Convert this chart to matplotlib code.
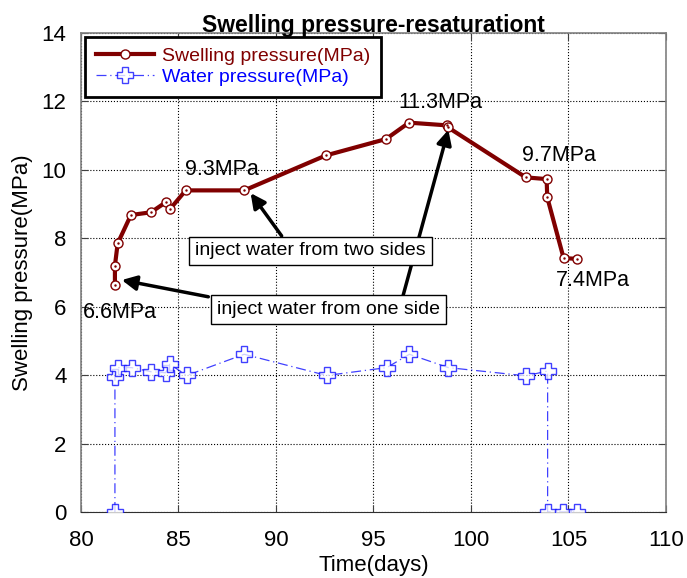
import matplotlib.pyplot as plt
import numpy as np

plt.rcParams['font.family'] = ['Liberation Sans', 'DejaVu Sans']

# swelling pressure record (days, MPa)
swell_t = [81.74, 81.74, 81.88, 82.56, 83.59, 84.34, 84.56, 85.37, 88.37,
           92.55, 95.64, 96.82, 98.78, 98.8, 102.81, 103.88, 103.91, 104.75, 105.42]
swell_p = [6.64, 7.2, 7.85, 8.68, 8.76, 9.05, 8.85, 9.4, 9.4,
           10.42, 10.9, 11.38, 11.3, 11.25, 9.78, 9.73, 9.2, 7.42, 7.4]

# injected water pressure (days, MPa)
water_t = [81.74, 81.74, 81.91, 82.6, 83.59, 84.34, 84.56, 85.42, 88.37,
           92.6, 95.68, 96.84, 98.84, 102.81, 103.93, 103.93, 104.73, 105.42]
water_p = [0.0, 3.96, 4.22, 4.22, 4.1, 4.07, 4.32, 3.99, 4.61,
           3.99, 4.22, 4.61, 4.22, 3.98, 4.12, 0.0, 0.0, 0.0]

# value callouts: text, x, y
peak_labels = ["6.6MPa", "9.3MPa", "11.3MPa", "9.7MPa", "7.4MPa"]
peak_x = [80.1, 85.33, 96.26, 102.62, 104.36]
peak_y = [5.82, 10.0, 11.96, 10.43, 6.78]

DARKRED = '#800000'
BLUE = '#0000ff'

fig = plt.figure(figsize=(6.87, 5.78), dpi=100)
ax = fig.add_axes([0.1179, 0.1142, 0.8515, 0.8287])

ax.plot(swell_t, swell_p, color=DARKRED, lw=3, marker='o', ms=6.5,
        mfc='white', mec=DARKRED, mew=1, label='Swelling pressure(MPa)', zorder=4)
ax.plot(swell_t, swell_p, ls='none', marker='.', ms=1.5, color=DARKRED, zorder=5)

ax.plot(water_t, water_p, color=BLUE, lw=0.9, ls=(0, (8, 3, 1, 3)), alpha=0.75,
        marker='P', ms=11, mfc='white', mec=BLUE, mew=1,
        label='Water pressure(MPa)', zorder=3)

for txt, x, y in zip(peak_labels, peak_x, peak_y):
    ax.text(x, y, txt, fontsize=15.5, va='center', ha='left', zorder=6)

box = dict(boxstyle='square,pad=0.3', fc='white', ec='black', lw=1)
ax.text(91.77, 7.63, 'inject water from two sides', fontsize=14,
        ha='center', va='center', bbox=box, zorder=7)
ax.text(92.69, 5.92, 'inject water from one side', fontsize=14,
        ha='center', va='center', bbox=box, zorder=7)

arrow = dict(arrowstyle='-|>', color='black', lw=2.5, mutation_scale=22,
             shrinkA=0, shrinkB=0)
ax.annotate('', xy=(88.7, 9.32), xytext=(90.29, 8.07), arrowprops=arrow, zorder=6)
ax.annotate('', xy=(82.09, 6.78), xytext=(86.53, 6.29), arrowprops=arrow, zorder=6)
ax.annotate('', xy=(98.84, 11.17), xytext=(96.5, 6.29), arrowprops=arrow, zorder=6)

ax.set_xlim(80, 110)
ax.set_ylim(0, 14)
ax.set_xticks(np.arange(80, 111, 5))
ax.set_yticks(np.arange(0, 15, 2))
ax.grid(True, ls=':', color='black', lw=0.8)
ax.tick_params(direction='in', length=5, labelsize=16, top=True, right=True,
               color='#404040')
ax.tick_params(axis='x', pad=13)
ax.tick_params(axis='y', pad=10.5)

for side in ['left', 'top', 'right']:
    ax.spines[side].set_color('#808080')
    ax.spines[side].set_linewidth(1.2)
ax.spines['bottom'].set_color('#303030')

ax.set_xlabel('Time(days)', fontsize=16, labelpad=3)
ax.set_ylabel('Swelling pressure(MPa)', fontsize=16, labelpad=6.5)
ax.set_title('Swelling pressure-resaturationt', fontsize=16.5, fontweight='bold', pad=1)

leg = ax.legend(loc='upper left', bbox_to_anchor=(0.007, 0.992), borderaxespad=0,
                fontsize=14, handlelength=3.0, handletextpad=0.4, borderpad=0.55,
                labelspacing=0.18, fancybox=False, framealpha=1, edgecolor='black')
leg.get_frame().set_linewidth(2)
for t, c in zip(leg.get_texts(), [DARKRED, BLUE]):
    t.set_color(c)

fig.savefig('out.png', dpi=100)
